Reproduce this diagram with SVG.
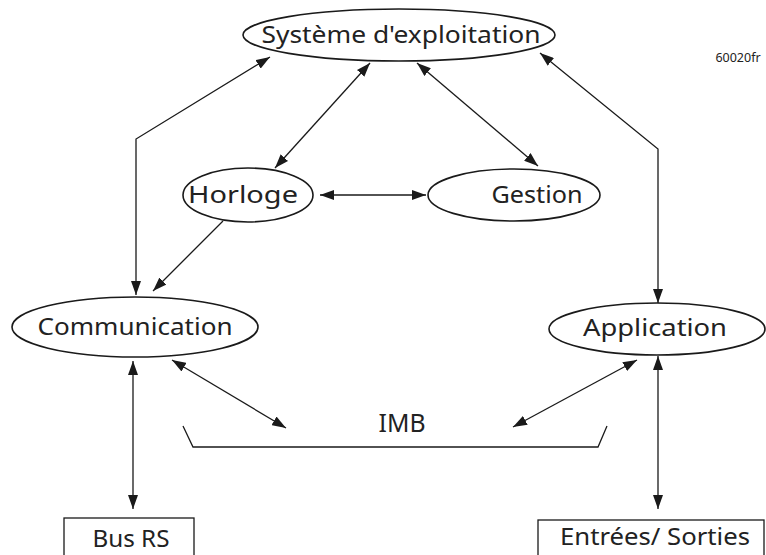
<svg xmlns="http://www.w3.org/2000/svg" width="766" height="555" viewBox="0 0 766 555">
  <style>
    .shape { fill: #ffffff; stroke: #1a1a1a; stroke-width: 1.6; }
    .box { fill: #ffffff; stroke: #1a1a1a; stroke-width: 1.3; }
    .label { font-family: "Noto Sans", "Open Sans", sans-serif; font-size: 23px; fill: #222222; text-anchor: middle; }
    .link { fill: none; stroke: #1a1a1a; stroke-width: 1.3; }
  </style>
  <defs>
    <marker id="head" viewBox="0 0 14 10" refX="14" refY="5" markerWidth="14" markerHeight="10" markerUnits="userSpaceOnUse" orient="auto-start-reverse">
      <path d="M0,0 L14,5 L0,10 Z" fill="#1a1a1a"/>
    </marker>
  </defs>

  <rect width="766" height="555" fill="#ffffff"/>

  <!-- connectors -->
  <g id="connectors">
    <polyline class="link" points="270,57 136,139 136,295" marker-start="url(#head)" marker-end="url(#head)"/>
    <polyline class="link" points="540,53 658,149 658,303" marker-start="url(#head)" marker-end="url(#head)"/>
    <line class="link" x1="370" y1="63" x2="275" y2="168" marker-start="url(#head)" marker-end="url(#head)"/>
    <line class="link" x1="417" y1="63" x2="538" y2="166" marker-start="url(#head)" marker-end="url(#head)"/>
    <line class="link" x1="320" y1="195" x2="426" y2="195" marker-start="url(#head)" marker-end="url(#head)"/>
    <line class="link" x1="223" y1="221" x2="153" y2="291" marker-end="url(#head)"/>
    <line class="link" x1="133" y1="361" x2="133" y2="509" marker-start="url(#head)" marker-end="url(#head)"/>
    <line class="link" x1="172" y1="360" x2="286" y2="428" marker-start="url(#head)" marker-end="url(#head)"/>
    <line class="link" x1="637" y1="360" x2="513" y2="427" marker-start="url(#head)" marker-end="url(#head)"/>
    <line class="link" x1="658" y1="356" x2="658" y2="509" marker-start="url(#head)" marker-end="url(#head)"/>
  </g>

  <!-- nodes -->
  <g id="systeme">
    <ellipse class="shape" cx="399" cy="35" rx="156" ry="26"/>
    <text class="label" x="401" y="43" textLength="279" lengthAdjust="spacingAndGlyphs">Système d'exploitation</text>
  </g>
  <g id="horloge">
    <ellipse class="shape" cx="248" cy="195" rx="65" ry="27"/>
    <text class="label" x="243" y="203" textLength="110" lengthAdjust="spacingAndGlyphs">Horloge</text>
  </g>
  <g id="gestion">
    <ellipse class="shape" cx="514" cy="195" rx="86" ry="26"/>
    <text class="label" x="537" y="203" textLength="91" lengthAdjust="spacingAndGlyphs">Gestion</text>
  </g>
  <g id="communication">
    <ellipse class="shape" cx="135" cy="327" rx="123" ry="30"/>
    <text class="label" x="135" y="335" textLength="195" lengthAdjust="spacingAndGlyphs">Communication</text>
  </g>
  <g id="application">
    <ellipse class="shape" cx="657" cy="329" rx="108" ry="26"/>
    <text class="label" x="655" y="336" textLength="144" lengthAdjust="spacingAndGlyphs">Application</text>
  </g>
  <g id="imb">
    <polyline class="link" points="183,426 193,447 598,447 607,426"/>
    <text class="label" x="402" y="432" style="font-size:25px" textLength="47" lengthAdjust="spacingAndGlyphs">IMB</text>
  </g>
  <g id="bus-rs">
    <rect class="box" x="64" y="518" width="130" height="50"/>
    <text class="label" x="131" y="547" style="font-size:24px" textLength="77" lengthAdjust="spacingAndGlyphs">Bus RS</text>
  </g>
  <g id="entrees-sorties">
    <rect class="box" x="538" y="520" width="226" height="50"/>
    <text class="label" x="655" y="545" style="font-size:24px" textLength="190" lengthAdjust="spacingAndGlyphs">Entrées/ Sorties</text>
  </g>
  <text class="label" x="738" y="62" style="font-size:12.5px">60020fr</text>
</svg>
